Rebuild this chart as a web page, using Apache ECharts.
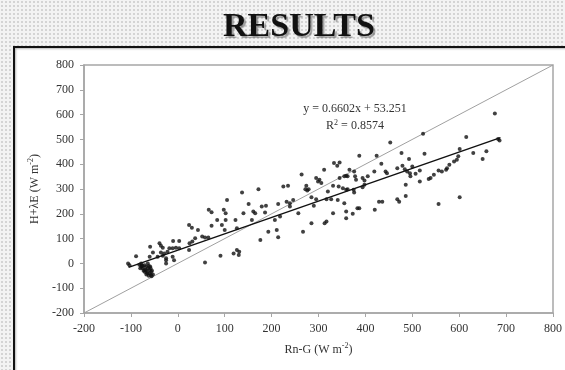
<!DOCTYPE html>
<html>
<head>
<meta charset="utf-8">
<script src="https://cdn.jsdelivr.net/npm/echarts@6/dist/echarts.min.js"></script>
<style>
html,body{margin:0;padding:0;}
body{width:565px;height:370px;overflow:hidden;background-color:#f3f3f3;
background-image:radial-gradient(#d4d4d4 0.9px, transparent 1.1px);background-size:4px 4px;}
#c{width:565px;height:370px;}
</style>
</head>
<body>
<div id="c"></div>
<script>
// ---- data ----
var titleText = 'RESULTS';
var xName = 'Rn-G (W m{sup|-2})';
var yName = 'H+λE (W m{sup|-2})';
var equationText = 'y = 0.6602x + 53.251';
var r2Text = 'R{sup|2} = 0.8574';
var axisMin = -200, axisMax = 800, axisStep = 100;

var measuredPoints = [
 [66,216],[72,206],[98,216],[84,175],[24,155],[30,144],[43,135],[72,152],[94,155],[100,135],
 [52,108],[58,104],[65,104],[37,101],[-10,90],[3,90],[-59,67],[-39,81],[-36,71],[-32,63],
 [25,81],[31,88],[-18,61],[-11,61],[-4,63],[3,61],[-53,44],[-36,44],[-29,40],[-22,47],
 [-89,29],[-60,27],[-43,27],[-32,31],[-11,27],[-8,13],[-25,13],[24,54],[91,31],[58,4],
 [-106,0],[-103,-7],[-25,21],
 [-78,0],[-75,-10],[-71,-7],[-68,-14],[-64,-20],[-60,-27],[-57,-34],[-75,-20],[-68,-27],[-60,-41],
 [-57,-47],[-53,-45],[-64,0],[-78,-14],[-71,-27],[-25,0],[-82,-5],[-70,-35],[-65,-40],[-62,-10],
 [-58,-20],[-55,-30],[-67,-45],[-73,-30],[-80,-20],[-56,-52],[-62,-50],[-77,-8],[-66,-32],[-59,-12],
 [264,358],[312,378],[225,310],[235,313],[274,313],[272,299],[276,294],[279,299],[295,344],[302,337],
 [306,324],[299,330],[172,299],[137,286],[105,256],[151,240],[179,229],[188,232],[214,240],[232,249],
 [239,243],[246,256],[102,202],[140,202],[161,209],[165,202],[186,205],[239,229],[257,202],[285,267],
 [295,259],[290,232],[317,259],[102,175],[123,175],[158,175],[207,175],[218,189],[126,142],[193,128],
 [211,135],[214,105],[267,128],[176,94],[285,162],[313,162],[317,169],[126,54],[131,47],[119,40],[130,34],
 [453,488],[387,434],[424,434],[477,445],[493,421],[333,405],[345,407],[340,394],[366,378],[376,371],
 [434,402],[419,371],[443,371],[446,364],[468,384],[479,394],[484,380],[489,371],[495,364],[496,351],
 [345,344],[355,351],[359,353],[362,351],[378,351],[380,337],[394,344],[398,334],[405,351],[331,313],
 [343,310],[352,303],[359,297],[362,299],[375,297],[376,286],[398,317],[394,307],[486,317],[320,290],
 [327,259],[341,256],[355,243],[429,249],[436,249],[468,259],[472,249],[486,272],[331,202],[359,209],
 [359,182],[373,200],[383,222],[387,222],[420,216],
 [676,604],[523,523],[615,510],[683,502],[686,496],[601,461],[526,442],[630,445],[658,452],[650,421],
 [598,432],[595,418],[589,411],[579,398],[574,384],[572,378],[563,371],[556,375],[546,357],[539,344],
 [535,340],[516,375],[507,361],[500,391],[516,330],[601,267],[556,240]
];
var oneToOneLine = [[-200,-200],[800,800]];
var regressionLine = [[-105,-16],[688,507]];

// ---- chart ----
var serif = "'Liberation Serif','Times New Roman',serif";
var chart = echarts.init(document.getElementById('c'), null, {renderer:'canvas'});
var supRich = {sup:{fontSize:8, fontFamily:serif, color:'#333', padding:[0,0,7,0]}};
var axisCommon = {
  type:'value', min:axisMin, max:axisMax, interval:axisStep,
  axisLine:{show:true, onZero:false, lineStyle:{color:'#a6a6a6', width:1.5}},
  axisTick:{show:true, inside:false, length:4, lineStyle:{color:'#a6a6a6'}},
  splitLine:{show:false},
  axisLabel:{fontFamily:serif, fontSize:12, color:'#333', margin:10},
  nameLocation:'middle',
  nameTextStyle:{fontFamily:serif, fontSize:12, color:'#333', rich:supRich}
};
var option = {
  backgroundColor:'transparent',
  animation:false,
  title:{
    text:titleText, left:218, top:5,
    textStyle:{fontFamily:serif, fontSize:34, fontWeight:'bold', color:'#111', lineHeight:34,
      textShadowColor:'rgba(0,0,0,0.35)', textShadowOffsetX:2, textShadowOffsetY:2, textShadowBlur:1}
  },
  graphic:[
    {type:'rect', z:-10, silent:true,
     shape:{x:14, y:47, width:570, height:340},
     style:{fill:'#ffffff', stroke:'#111', lineWidth:2, shadowColor:'rgba(0,0,0,0.3)', shadowBlur:2, shadowOffsetX:1, shadowOffsetY:1}},
    {type:'text', z:10, style:{text:equationText, x:355, y:109, align:'center', verticalAlign:'middle',
      font:"12px 'Liberation Serif','Times New Roman',serif", fill:'#333'}},
    {type:'text', z:10, style:{text:r2Text, x:355, y:126, align:'center', verticalAlign:'middle',
      font:"12px 'Liberation Serif','Times New Roman',serif", fill:'#333', rich:supRich}}
  ],
  grid:{left:84, right:8, top:65, bottom:57, show:true, borderColor:'#a6a6a6', borderWidth:1.5, backgroundColor:'#fff'},
  xAxis:Object.assign({}, axisCommon, {name:xName, nameGap:29}),
  yAxis:Object.assign({}, axisCommon, {name:yName, nameGap:42}),
  series:[
    {type:'line', data:oneToOneLine, symbol:'none', lineStyle:{color:'#a0a0a0', width:1}, z:1},
    {type:'scatter', data:measuredPoints, symbol:'circle', symbolSize:4, itemStyle:{color:'#111'}, z:2},
    {type:'line', data:regressionLine, symbol:'none', lineStyle:{color:'#111', width:1.5}, z:3}
  ]
};
chart.setOption(option);
</script>
</body>
</html>
